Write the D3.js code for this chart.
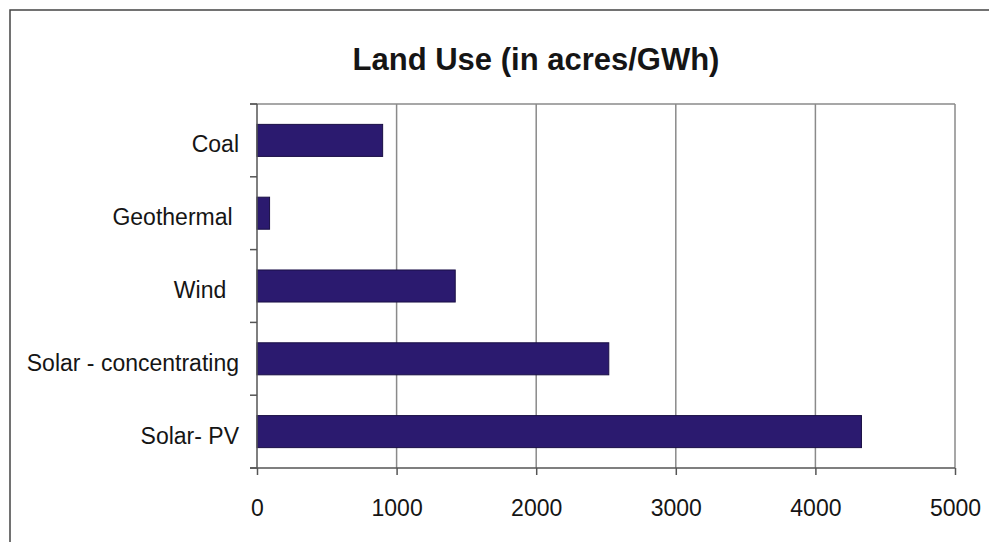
<!DOCTYPE html>
<html lang="en">
<head>
<meta charset="utf-8">
<title>Land Use</title>
<script src="https://cdn.jsdelivr.net/npm/d3@7"></script>
<style>
body { margin: 0; background: #fff; }
text { font-family: "Liberation Sans", Arial, sans-serif; fill: #151515; }
.title { font-weight: bold; font-size: 31px; }
.cat { font-size: 23px; white-space: pre; }
.tick text { font-size: 23px; }
.bar { fill: #2b1a6f; stroke: #1a0f45; stroke-width: 1px; }
.grid line { stroke: #8a8a8a; stroke-width: 1.5px; }
.axis path, .axis line { stroke: #555; stroke-width: 1.5px; }
</style>
</head>
<body>
<script>
// data
var categories = ["Coal", "Geothermal\u00a0", "Wind\u00a0\u00a0", "Solar - concentrating", "Solar- PV"];
var values = [900, 90, 1420, 2520, 4330];
var xTicks = [0, 1000, 2000, 3000, 4000, 5000];

var w = 989, h = 542;
var plotL = 257, plotR = 955, plotT = 104, plotB = 468;

var svg = d3.select("body").append("svg")
    .attr("width", w)
    .attr("height", h);

// outer frame
svg.append("rect")
    .attr("x", 10).attr("y", 10)
    .attr("width", w).attr("height", h)
    .attr("fill", "none")
    .attr("stroke", "#444")
    .attr("stroke-width", 1.5);

svg.append("text")
    .attr("class", "title")
    .attr("x", 536).attr("y", 70)
    .attr("text-anchor", "middle")
    .text("Land Use (in acres/GWh)");

var x = d3.scaleLinear().domain([0, 5000]).range([plotL, plotR]);
var y = d3.scaleBand().domain(categories).range([plotT, plotB])
    .paddingInner(0.56).paddingOuter(0.28);

// vertical gridlines
svg.append("g").attr("class", "grid")
  .selectAll("line").data(xTicks.slice(1)).enter().append("line")
    .attr("x1", d => x(d)).attr("x2", d => x(d))
    .attr("y1", plotT).attr("y2", plotB);

// top border of plot
svg.append("line")
    .attr("x1", plotL - 7).attr("x2", plotR)
    .attr("y1", plotT).attr("y2", plotT)
    .attr("stroke", "#8a8a8a").attr("stroke-width", 1.5);

svg.selectAll(".bar").data(values).enter().append("rect")
    .attr("class", "bar")
    .attr("x", x(0))
    .attr("y", (d, i) => y(categories[i]))
    .attr("width", d => x(d) - x(0))
    .attr("height", y.bandwidth());

// x axis
var xAxis = svg.append("g").attr("class", "axis")
    .attr("transform", "translate(0," + plotB + ")")
    .call(d3.axisBottom(x).tickValues(xTicks).tickFormat(d3.format("d"))
        .tickSize(7).tickSizeOuter(0).tickPadding(25));
xAxis.select(".domain").remove();
xAxis.append("line")
    .attr("x1", plotL - 7).attr("x2", plotR)
    .attr("y1", 0).attr("y2", 0);

// y axis line with ticks at category boundaries
var bounds = d3.range(categories.length + 1).map(i => plotT + i * (plotB - plotT) / categories.length);
var yAxis = svg.append("g").attr("class", "axis");
yAxis.append("line")
    .attr("x1", plotL).attr("x2", plotL)
    .attr("y1", plotT).attr("y2", plotB);
yAxis.selectAll(".yt").data(bounds).enter().append("line")
    .attr("x1", plotL - 7).attr("x2", plotL)
    .attr("y1", d => d).attr("y2", d => d);

// category labels
svg.selectAll(".cat").data(categories).enter().append("text")
    .attr("class", "cat")
    .attr("x", 239)
    .attr("y", d => y(d) + y.bandwidth() / 2 + 12)
    .attr("text-anchor", "end")
    .text(d => d);
</script>
</body>
</html>
